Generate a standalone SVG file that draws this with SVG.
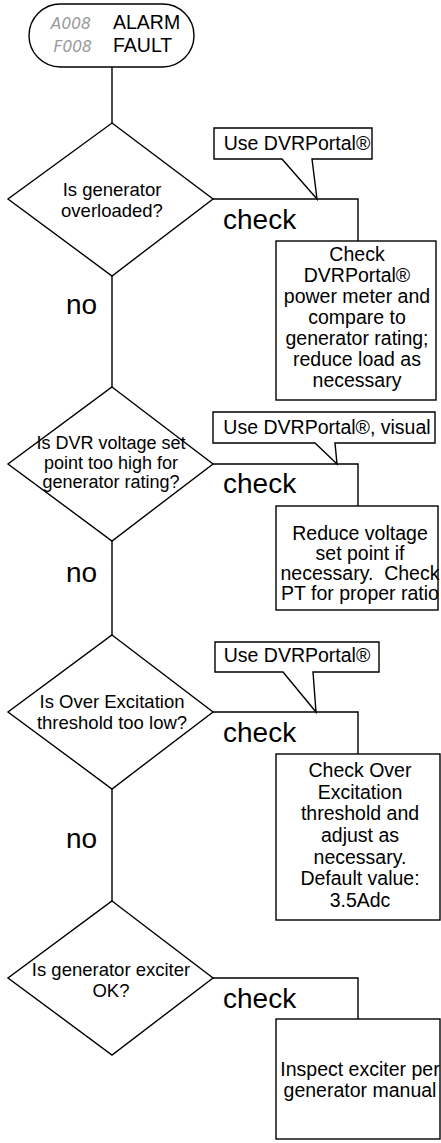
<svg xmlns="http://www.w3.org/2000/svg" width="441" height="1143" viewBox="0 0 441 1143">
<style>
.s{fill:#fff;stroke:#000;stroke-width:1.4}
.l{fill:none;stroke:#000;stroke-width:1.4}
.t{font-family:"Liberation Sans",Arial,sans-serif;font-size:19.5px;fill:#000;text-anchor:middle}
.d{font-family:"Liberation Sans",Arial,sans-serif;font-size:18.5px;fill:#000;text-anchor:middle}
.b{font-family:"Liberation Sans",Arial,sans-serif;font-size:28px;fill:#000}
.g{font-family:"DejaVu Sans",sans-serif;font-style:italic;font-size:15.5px;fill:#9a9a9a;text-anchor:end}
</style>
<rect width="441" height="1143" fill="#fff"/>
<g id="connectors">
<path class="l" d="M112,67V123M112,276V387M112,541V635M112,789V901"/>
<path class="l" d="M213,199H358V241M213,464H358V506M213,712H358V754M213,978H358V1019"/>
<text class="b" x="66" y="314">no</text>
<text class="b" x="66" y="582">no</text>
<text class="b" x="66" y="848">no</text>
<text class="b" x="223" y="229">check</text>
<text class="b" x="223" y="493">check</text>
<text class="b" x="223" y="742">check</text>
<text class="b" x="223" y="1008">check</text>
</g>
<g id="start">
<rect class="s" x="29" y="4" width="165" height="63" rx="31.5"/>
<text class="g" x="91" y="29">A008</text>
<text class="g" x="92" y="52">F008</text>
<text class="t" x="113" y="29" style="text-anchor:start">ALARM</text>
<text class="t" x="113" y="52" style="text-anchor:start">FAULT</text>
</g>
<g id="q1">
<polygon class="s" points="112,123 213,199 112,276 8,199"/>
<text class="d" x="112" y="196">Is generator</text>
<text class="d" x="112" y="217">overloaded?</text>
</g>
<g id="note1">
<polygon class="s" points="214,128 372,128 372,159 312,159 317,199 282,159 214,159"/>
<text class="t" x="297" y="150">Use DVRPortal®</text>
</g>
<g id="a1">
<rect class="s" x="276" y="241" width="160" height="159"/>
<text class="t" x="357" y="261">Check</text>
<text class="t" x="357" y="282">DVRPortal®</text>
<text class="t" x="357" y="303">power meter and</text>
<text class="t" x="357" y="324">compare to</text>
<text class="t" x="357" y="345">generator rating;</text>
<text class="t" x="357" y="366">reduce load as</text>
<text class="t" x="357" y="387">necessary</text>
</g>
<g id="q2">
<polygon class="s" points="112,387 213,464 112,541 8,464"/>
<text class="d" x="111" y="449" style="font-size:18px">Is DVR voltage set</text>
<text class="d" x="111" y="468.5" style="font-size:18px">point too high for</text>
<text class="d" x="111" y="488" style="font-size:18px">generator rating?</text>
</g>
<g id="note2">
<polygon class="s" points="213,412 435,412 435,443 335,443 337,464 315,443 213,443"/>
<text class="t" x="327" y="434">Use DVRPortal®, visual</text>
</g>
<g id="a2">
<rect class="s" x="276" y="506" width="162" height="104"/>
<text class="t" x="360" y="540">Reduce voltage</text>
<text class="t" x="360" y="560">set point if</text>
<text class="t" x="360" y="580">necessary.&#160; Check</text>
<text class="t" x="360" y="600">PT for proper ratio</text>
</g>
<g id="q3">
<polygon class="s" points="112,635 213,712 112,789 8,712"/>
<text class="d" x="112" y="708">Is Over Excitation</text>
<text class="d" x="112" y="729">threshold too low?</text>
</g>
<g id="note3">
<polygon class="s" points="215,642 379,642 379,672 313,672 316,712 283,672 215,672"/>
<text class="t" x="297" y="662">Use DVRPortal®</text>
</g>
<g id="a3">
<rect class="s" x="276" y="754" width="164" height="166"/>
<text class="t" x="360" y="777">Check Over</text>
<text class="t" x="360" y="799">Excitation</text>
<text class="t" x="360" y="820">threshold and</text>
<text class="t" x="360" y="842">adjust as</text>
<text class="t" x="360" y="864">necessary.</text>
<text class="t" x="360" y="885">Default value:</text>
<text class="t" x="360" y="907">3.5Adc</text>
</g>
<g id="q4">
<polygon class="s" points="112,901 213,978 112,1055 8,978"/>
<text class="d" x="111" y="976">Is generator exciter</text>
<text class="d" x="111" y="997">OK?</text>
</g>
<g id="a4">
<rect class="s" x="276" y="1019" width="164" height="120"/>
<text class="t" x="360" y="1076">Inspect exciter per</text>
<text class="t" x="360" y="1097">generator manual</text>
</g>
</svg>
